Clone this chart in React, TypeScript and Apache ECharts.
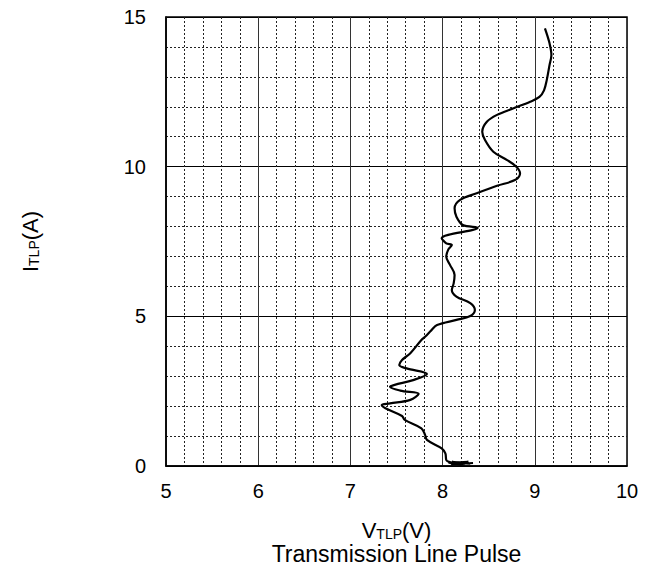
import React, { useEffect, useRef } from "react";
import * as echarts from "echarts";

// Curve: [V_TLP (V), I_TLP (A)], bottom to top
const curve: [number, number][] = [
  [8.33, 0.1], [8.09, 0.05], [8.28, 0.14], [8.07, 0.1], [8.24, 0.05], [8.1, 0.14],
  [8.3, 0.08], [8.08, 0.12], [8.2, 0.04], [8.06, 0.15],
  [8.04, 0.2], [8.03, 0.42], [7.99, 0.59], [7.83, 0.87], [7.81, 1.04], [7.77, 1.26],
  [7.59, 1.54], [7.56, 1.67], [7.38, 1.93], [7.34, 2.04], [7.43, 2.09], [7.65, 2.21],
  [7.74, 2.41], [7.54, 2.52], [7.43, 2.65], [7.48, 2.71], [7.68, 2.87], [7.83, 3.07],
  [7.61, 3.26], [7.53, 3.37], [7.56, 3.54], [7.65, 3.77], [7.77, 4.21], [7.81, 4.32],
  [7.88, 4.54], [7.94, 4.71], [8.15, 4.88], [8.3, 5.01], [8.35, 5.21], [8.3, 5.44],
  [8.15, 5.66], [8.1, 5.88], [8.12, 6.1], [8.13, 6.38], [8.08, 6.72], [8.04, 6.99],
  [8.06, 7.22], [8.1, 7.38], [8.04, 7.44], [7.99, 7.61], [8.38, 7.96], [8.22, 8.05],
  [8.15, 8.33], [8.13, 8.61], [8.19, 8.89], [8.37, 9.11], [8.59, 9.36], [8.79, 9.56],
  [8.84, 9.78], [8.8, 10.0], [8.7, 10.22], [8.55, 10.5], [8.46, 10.89], [8.43, 11.17],
  [8.48, 11.5], [8.59, 11.73], [8.77, 11.95], [8.95, 12.17], [9.05, 12.33], [9.1, 12.55],
  [9.13, 12.9], [9.16, 13.4], [9.18, 13.73], [9.16, 14.12], [9.11, 14.62],
];

const xRange = { min: 5, max: 10, interval: 1 };
const yRange = { min: 0, max: 15, interval: 5 };
const xName = ["V", "TLP", "(V)"];
const xSubtitle = "Transmission Line Pulse";
const yName = ["I", "TLP", "(A)"];

const FONT = "Liberation Sans, Arial, sans-serif";

const rich = {
  m: { fontSize: 22, fontFamily: FONT, color: "#000", lineHeight: 24, verticalAlign: "bottom" as const },
  t: { fontSize: 23, fontFamily: FONT, color: "#000", lineHeight: 24, verticalAlign: "bottom" as const },
  s: { fontSize: 14, fontFamily: FONT, color: "#000", lineHeight: 17, verticalAlign: "bottom" as const },
};

export default function App() {
  const ref = useRef<HTMLDivElement>(null);
  useEffect(() => {
    document.body.style.margin = "0";
    if (!ref.current) return;
    const chart = echarts.init(ref.current, undefined, { renderer: "svg" });
    chart.setOption({
      animation: false,
      backgroundColor: "#fff",
      grid: {
        left: 166,
        right: 34,
        top: 17,
        bottom: 105,
        show: true,
        borderColor: "#000",
        borderWidth: 1.5,
      },
      xAxis: {
        type: "value",
        min: xRange.min,
        max: xRange.max,
        interval: xRange.interval,
        name: `{m|${xName[0]}}{s|${xName[1]}}{m|${xName[2]}}\n{t|${xSubtitle}}`,
        nameLocation: "middle",
        nameGap: 51,
        nameTextStyle: { rich },
        axisLine: { show: true, lineStyle: { color: "#000", width: 1.5 } },
        axisTick: { show: false },
        axisLabel: { fontSize: 20, fontFamily: FONT, color: "#000", margin: 15 },
        splitLine: { show: true, lineStyle: { color: "#333", width: 1 } },
        minorTick: { show: false, splitNumber: 5 },
        minorSplitLine: { show: true, lineStyle: { color: "#222", width: 1, type: [2, 2] } },
      },
      yAxis: {
        type: "value",
        min: yRange.min,
        max: yRange.max,
        interval: yRange.interval,
        name: `{m|${yName[0]}}{s|${yName[1]}}{m|${yName[2]}}`,
        nameLocation: "middle",
        nameRotate: 90,
        nameGap: 125,
        nameTextStyle: { rich },
        axisLine: { show: true, lineStyle: { color: "#000", width: 1.5 } },
        axisTick: { show: false },
        axisLabel: { fontSize: 20, fontFamily: FONT, color: "#000", margin: 20 },
        splitLine: { show: true, lineStyle: { color: "#000", width: 1 } },
        minorTick: { show: false, splitNumber: 5 },
        minorSplitLine: { show: true, lineStyle: { color: "#222", width: 1, type: [2, 2] } },
      },
      series: [
        {
          type: "line",
          data: curve,
          smooth: 0.35,
          showSymbol: false,
          lineStyle: { color: "#000", width: 2.2 },
        },
      ],
    });
    return () => chart.dispose();
  }, []);
  return <div ref={ref} style={{ width: 661, height: 571 }} />;
}
